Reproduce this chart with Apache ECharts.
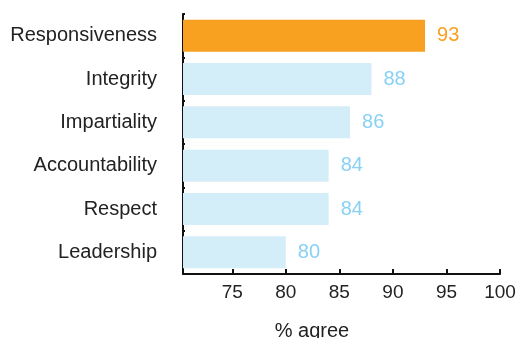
<!DOCTYPE html>
<html>
<head>
<meta charset="utf-8">
<script src="https://cdn.jsdelivr.net/npm/echarts@6/dist/echarts.min.js"></script>
<style>
  html, body { margin: 0; padding: 0; background: #fff; }
  #chart { width: 519px; height: 338px; }
</style>
</head>
<body>
<div id="chart"></div>
<script>
// Share of respondents agreeing, by value
const categories = ['Responsiveness', 'Integrity', 'Impartiality', 'Accountability', 'Respect', 'Leadership'];
const values = [93, 88, 86, 84, 84, 80];
const highlighted = ['Responsiveness'];
const tickValues = [75, 80, 85, 90, 95, 100];

const ORANGE = '#F8A01F';
const BAR_BLUE = '#D4EEF9';
const LABEL_BLUE = '#88D1F3';
const FONT = '"Liberation Sans", Arial, sans-serif';

const chart = echarts.init(document.getElementById('chart'), null, { renderer: 'canvas' });

chart.setOption({
  animation: false,
  textStyle: { fontFamily: FONT },
  grid: { left: 183, top: 14, width: 317, height: 260, containLabel: false },
  xAxis: {
    type: 'value',
    min: 70.4,
    max: 100,
    axisLine: { show: true, lineStyle: { color: '#111', width: 2 } },
    axisTick: { show: true, inside: true, length: 5, lineStyle: { color: '#111', width: 2 }, customValues: tickValues },
    axisLabel: { fontSize: 19, color: '#222', margin: 9, fontFamily: FONT, customValues: tickValues },
    splitLine: { show: false }
  },
  yAxis: {
    type: 'category',
    data: categories,
    inverse: true,
    axisLine: { show: true, lineStyle: { color: '#111', width: 2 } },
    axisTick: { show: true, inside: true, length: 2, lineStyle: { color: '#111', width: 2 } },
    axisLabel: { fontSize: 20, color: '#222', margin: 26, fontFamily: FONT }
  },
  series: [{
    type: 'bar',
    barWidth: 32,
    data: categories.map((c, i) => ({
      value: values[i],
      itemStyle: { color: highlighted.includes(c) ? ORANGE : BAR_BLUE },
      label: { color: highlighted.includes(c) ? ORANGE : LABEL_BLUE }
    })),
    label: {
      show: true,
      position: 'right',
      distance: 12,
      fontSize: 20,
      fontFamily: FONT
    }
  }],
  graphic: [{
    type: 'text',
    style: {
      x: 312,
      y: 331,
      text: '% agree',
      font: '20px ' + FONT,
      fill: '#222',
      align: 'center',
      verticalAlign: 'middle'
    }
  }]
});
</script>
</body>
</html>
